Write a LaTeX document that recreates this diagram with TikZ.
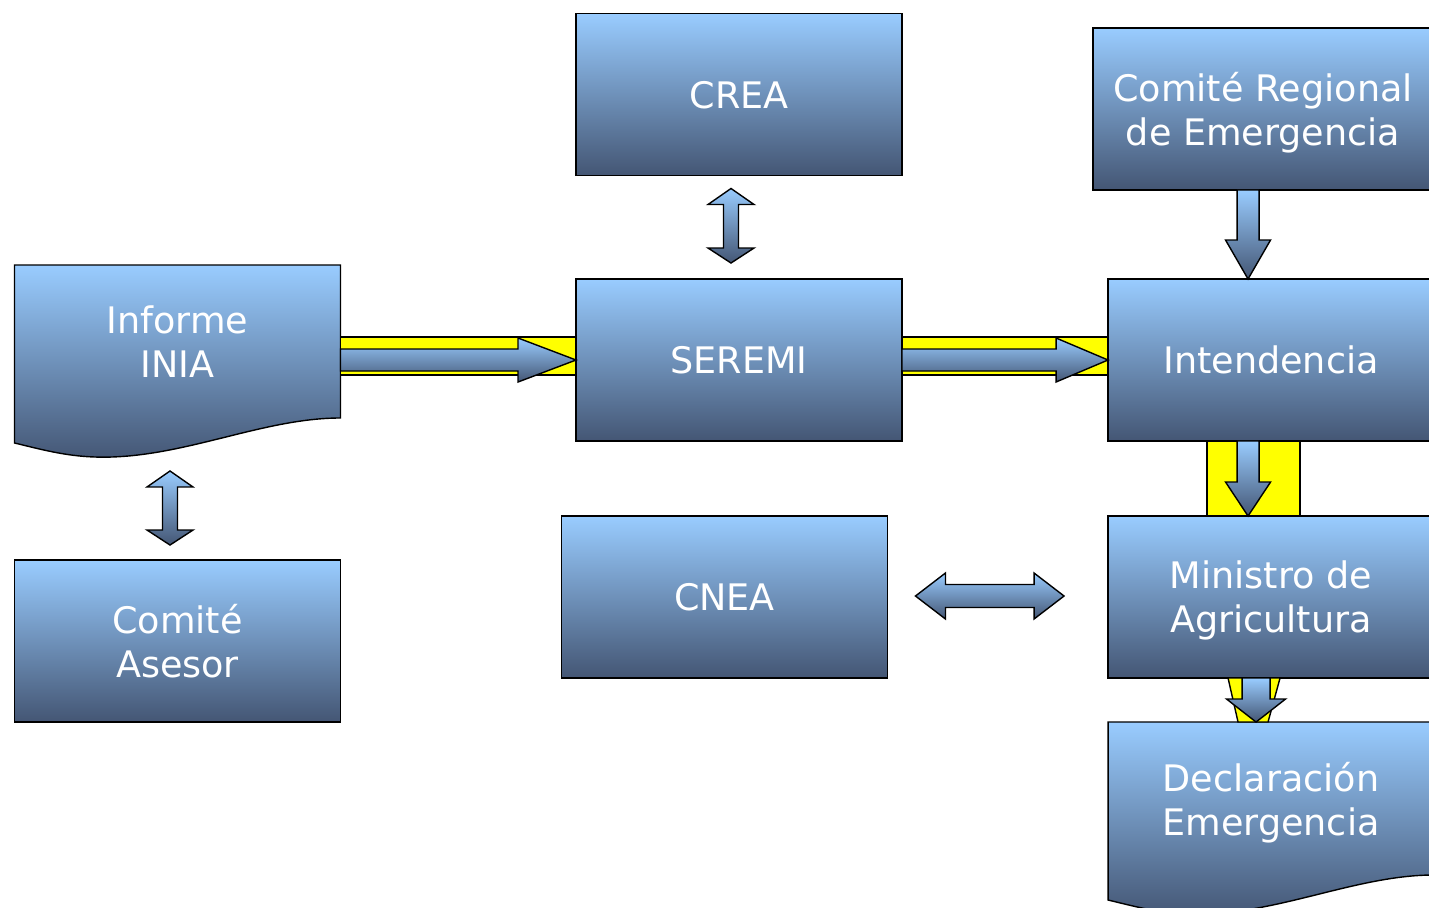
\documentclass[tikz,border=0pt]{standalone}
\usepackage{fontspec}
\setmainfont{DejaVu Sans}
\usetikzlibrary{calc,backgrounds}
\definecolor{boxtop}{RGB}{153,204,255}
\definecolor{boxbot}{RGB}{68,86,116}
\definecolor{bandyellow}{RGB}{255,255,0}

\begin{document}
\begin{tikzpicture}[x=0.02cm, y=-0.02cm,
    boxshade/.style={top color=boxtop, bottom color=boxbot, draw=black, line width=0.8pt},
    box/.style={boxshade, minimum width=6.52cm, minimum height=3.24cm, inner sep=0pt, outer sep=0pt,
      text=white, align=center, text depth=0pt, font=\fontsize{20.8}{25}\selectfont},
    docnode/.style={minimum width=6.52cm, minimum height=3.06cm, inner sep=0pt, outer sep=0pt,
      text=white, align=center, text depth=-3.4pt, font=\fontsize{20.8}{25}\selectfont},
    bandfill/.style={fill=bandyellow, draw=black, line width=0.8pt},
    barrow/.style={boxshade, line join=miter}]
  \useasboundingbox (0,0) rectangle (1429,907);
  % Boxes
  \node[box] (crea) at (739,94.5) {CREA};
  \node[box, minimum width=6.8cm] (cre) at (1263,109) {Comité Regional\\de Emergencia};
  \node[docnode] (inf) at (177.5,341.5) {Informe\\INIA};
  \node[box] (ser) at (739,360) {SEREMI};
  \node[box] (int) at (1271,360) {Intendencia};
  \node[box] (ase) at (177.5,641) {Comité\\Asesor};
  \node[box] (cnea) at (724.5,597) {CNEA};
  \node[box] (min) at (1271,597) {Ministro de\\Agricultura};
  \node[docnode] (dec) at (1271,798.5) {Declaración\\Emergencia};
  % Document outlines with wavy bottom
  \begin{scope}[on background layer]
    \foreach \d in {inf,dec}
      \path[boxshade] (\d.north west) -- (\d.north east) -- (\d.south east)
        .. controls ($(\d.south east)+(-80,0)$) and ($(\d.south west)+(165,42)$) .. ($(\d.south west)+(80,39)$)
        .. controls ($(\d.south west)+(50,38)$) and ($(\d.south west)+(25,31)$) .. ($(\d.south west)+(0,25)$) -- cycle;
  \end{scope}
  % Informe -> SEREMI
  \coordinate (p1) at (inf.east |- ser.west);
  \path[bandfill] ($(p1)+(0,-23)$) rectangle ($(ser.west)+(0,15)$);
  \path[barrow] ($(p1)+(0,-11)$) -- ($(ser.west)+(-58,-11)$) -- ($(ser.west)+(-58,-22)$) -- (ser.west)
    -- ($(ser.west)+(-58,22)$) -- ($(ser.west)+(-58,11)$) -- ($(p1)+(0,11)$) -- cycle;
  % SEREMI -> Intendencia
  \path[bandfill] ($(ser.east)+(0,-23)$) rectangle ($(int.west)+(0,15)$);
  \path[barrow] ($(ser.east)+(0,-11)$) -- ($(int.west)+(-52,-11)$) -- ($(int.west)+(-52,-22)$) -- (int.west)
    -- ($(int.west)+(-52,22)$) -- ($(int.west)+(-52,11)$) -- ($(ser.east)+(0,11)$) -- cycle;
  % Comite Regional -> Intendencia
  \coordinate (p2) at ($(int.north west)+(140,0)$);
  \coordinate (p3) at (p2 |- cre.south);
  \path[barrow] ($(p3)+(-11,0)$) -- ($(p2)+(-11,-39)$) -- ($(p2)+(-22.5,-39)$) -- (p2)
    -- ($(p2)+(22.5,-39)$) -- ($(p2)+(11,-39)$) -- ($(p3)+(11,0)$) -- cycle;
  % Intendencia -> Ministro
  \coordinate (p4) at ($(int.south west)+(140,0)$);
  \coordinate (p5) at ($(min.north west)+(140,0)$);
  \path[bandfill] ($(int.south west)+(99,0)$) rectangle ($(min.north west)+(192,0)$);
  \path[barrow] ($(p4)+(-11,0)$) -- ($(p5)+(-11,-34)$) -- ($(p5)+(-22.5,-34)$) -- (p5)
    -- ($(p5)+(22.5,-34)$) -- ($(p5)+(11,-34)$) -- ($(p4)+(11,0)$) -- cycle;
  % Ministro -> Declaracion
  \coordinate (p6) at ($(min.south west)+(148,0)$);
  \coordinate (p7) at ($(dec.north west)+(148,0)$);
  \path[bandfill] ($(p6)+(-28,0)$) -- ($(p6)+(24,0)$) -- ($(p7)+(12,0)$) -- ($(p7)+(-18,0)$) -- cycle;
  \path[barrow] ($(p6)+(-14,0)$) -- ($(p7)+(-14,-23)$) -- ($(p7)+(-29.5,-23)$) -- (p7)
    -- ($(p7)+(29.5,-23)$) -- ($(p7)+(14,-23)$) -- ($(p6)+(14,0)$) -- cycle;
  % Double arrows (vertical)
  \coordinate (q1) at ($(crea.south)+(-8,13)$);
  \coordinate (q2) at ($(ser.north)+(-8,-16)$);
  \coordinate (q3) at ($(inf.south)+(-7.5,53)$);
  \coordinate (q4) at ($(ase.north)+(-7.5,-15)$);
  \foreach \a/\b in {q1/q2,q3/q4}
    \path[barrow] (\a) -- ($(\a)+(23,16)$) -- ($(\a)+(7.5,16)$) -- ($(\b)+(7.5,-15)$) -- ($(\b)+(23,-15)$) -- (\b)
      -- ($(\b)+(-23,-15)$) -- ($(\b)+(-7.5,-15)$) -- ($(\a)+(-7.5,16)$) -- ($(\a)+(-23,16)$) -- cycle;
  % CNEA <-> Ministro
  \coordinate (q5) at ($(cnea.east)+(28,-1)$);
  \coordinate (q6) at ($(min.west)+(-44,-1)$);
  \path[barrow] (q5) -- ($(q5)+(30,-23)$) -- ($(q5)+(30,-11.5)$) -- ($(q6)+(-30,-11.5)$) -- ($(q6)+(-30,-23)$) -- (q6)
    -- ($(q6)+(-30,23)$) -- ($(q6)+(-30,11.5)$) -- ($(q5)+(30,11.5)$) -- ($(q5)+(30,23)$) -- cycle;
\end{tikzpicture}
\end{document}
